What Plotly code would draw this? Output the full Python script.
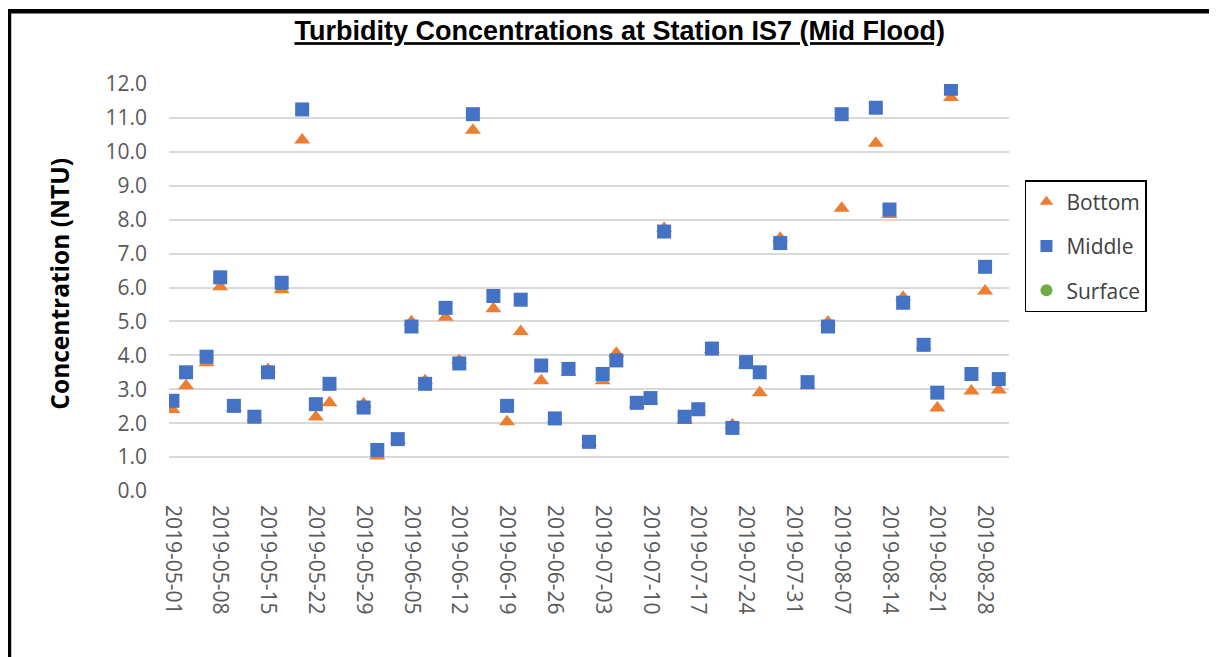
import plotly.graph_objects as go

dates = [
    "2019-05-01", "2019-05-03", "2019-05-06", "2019-05-08", "2019-05-10",
    "2019-05-13", "2019-05-15", "2019-05-17", "2019-05-20", "2019-05-22",
    "2019-05-24", "2019-05-29", "2019-05-31", "2019-06-03", "2019-06-05",
    "2019-06-07", "2019-06-10", "2019-06-12", "2019-06-14", "2019-06-17",
    "2019-06-19", "2019-06-21", "2019-06-24", "2019-06-26", "2019-06-28",
    "2019-07-01", "2019-07-03", "2019-07-05", "2019-07-08", "2019-07-10",
    "2019-07-12", "2019-07-15", "2019-07-17", "2019-07-19", "2019-07-22",
    "2019-07-24", "2019-07-26", "2019-07-29", "2019-08-02", "2019-08-05",
    "2019-08-07", "2019-08-12", "2019-08-14", "2019-08-16", "2019-08-19",
    "2019-08-21", "2019-08-23", "2019-08-26", "2019-08-28", "2019-08-30",
]

middle = [
    2.66, 3.50, 3.96, 6.30, 2.51, 2.19, 3.50, 6.14, 11.25, 2.56,
    3.16, 2.46, 1.21, 1.53, 4.85, 3.16, 5.40, 3.76, 11.11, 5.75,
    2.51, 5.64, 3.70, 2.14, 3.60, 1.45, 3.45, 3.85, 2.60, 2.74,
    7.65, 2.19, 2.41, 4.20, 1.86, 3.80, 3.50, 7.31, 3.21, 4.85,
    11.11, 11.30, 8.30, 5.55, 4.31, 2.90, 11.86, 3.45, 6.61, 3.30,
]

bottom = [
    2.40, 3.10, 3.78, 6.02, 2.45, 2.17, 3.58, 5.93, 10.35, 2.18,
    2.60, 2.57, 1.03, 1.50, 4.99, 3.25, 5.12, 3.85, 10.64, 5.37,
    2.04, 4.70, 3.25, 2.12, 3.50, 1.43, 3.25, 4.06, 2.56, 2.65,
    7.75, 2.08, 2.43, 4.17, 1.95, 3.72, 2.90, 7.45, 3.10, 4.98,
    8.34, 10.25, 8.15, 5.71, 4.28, 2.45, 11.60, 2.95, 5.90, 2.98,
]

# no surface readings in this period, legend entry only
surface = []

tick_dates = [
    "2019-05-01", "2019-05-08", "2019-05-15", "2019-05-22", "2019-05-29",
    "2019-06-05", "2019-06-12", "2019-06-19", "2019-06-26", "2019-07-03",
    "2019-07-10", "2019-07-17", "2019-07-24", "2019-07-31", "2019-08-07",
    "2019-08-14", "2019-08-21", "2019-08-28",
]

fig = go.Figure()

fig.add_trace(go.Scatter(
    x=dates, y=bottom, mode="markers", name="Bottom",
    legendgroup="b",
    marker=dict(symbol="triangle-up", size=14, color="#ED7D31"),
))
fig.add_trace(go.Scatter(
    x=dates, y=middle, mode="markers", name="Middle",
    legendgroup="m",
    marker=dict(symbol="square", size=14, color="#4472C4"),
))
fig.add_trace(go.Scatter(
    x=surface if surface else [None], y=surface if surface else [None],
    mode="markers", name="Surface",
    legendgroup="s",
    marker=dict(symbol="circle", size=14, color="#70AD47"),
))

# page body has an 8px margin, so the figure is a bit smaller than the window
fig.update_layout(
    width=1209,
    height=649,
    margin=dict(l=161, r=208, t=76, b=166),
    paper_bgcolor="white",
    plot_bgcolor="white",
    title=dict(
        text="<b><u>Turbidity Concentrations at Station IS7 (Mid Flood)</u></b>",
        font=dict(family="Liberation Sans", size=27, color="black"),
        x=0.506, xref="container", xanchor="center",
        y=0.965, yref="container", yanchor="middle",
    ),
    showlegend=True,
    legend=dict(
        x=1.019, xanchor="left",
        y=0.764, yanchor="top",
        bordercolor="black", borderwidth=1.5,
        font=dict(family="Open Sans", size=21, color="#404040"),
        tracegroupgap=14,
        itemsizing="constant",
    ),
)

fig.update_xaxes(
    type="date",
    range=["2019-04-30 12:00", "2019-08-31 12:00"],
    tickvals=tick_dates,
    tickformat="%Y-%m-%d",
    tickangle=90,
    tickfont=dict(family="Open Sans", size=21, color="#595959"),
    ticklabelstandoff=13,
    showgrid=False,
    showline=False,
    zeroline=False,
)

fig.update_yaxes(
    range=[0, 12.0],
    dtick=1,
    tickformat=".1f",
    tickfont=dict(family="Open Sans", size=21, color="#595959"),
    ticklabelstandoff=21,
    showgrid=True,
    gridcolor="#D9D9D9",
    gridwidth=1.5,
    zeroline=False,
    showline=False,
)

fig.add_annotation(
    text="<b>Concentration (NTU)</b>",
    textangle=-90,
    x=-0.13, xref="paper", xanchor="center",
    y=0.509, yref="paper", yanchor="middle",
    showarrow=False,
    font=dict(family="Open Sans", size=24.5, color="black"),
)

# frame lines on top and left edges of the picture
fig.add_shape(
    type="line", xref="paper", yref="paper",
    x0=-0.1917, x1=1.25, y0=1.1786, y1=1.1786,
    line=dict(color="black", width=4.5),
)
fig.add_shape(
    type="line", xref="paper", yref="paper",
    x0=-0.1917, x1=-0.1917, y0=-0.41, y1=1.1786,
    line=dict(color="black", width=6.5),
)

fig.write_html("out.html")
